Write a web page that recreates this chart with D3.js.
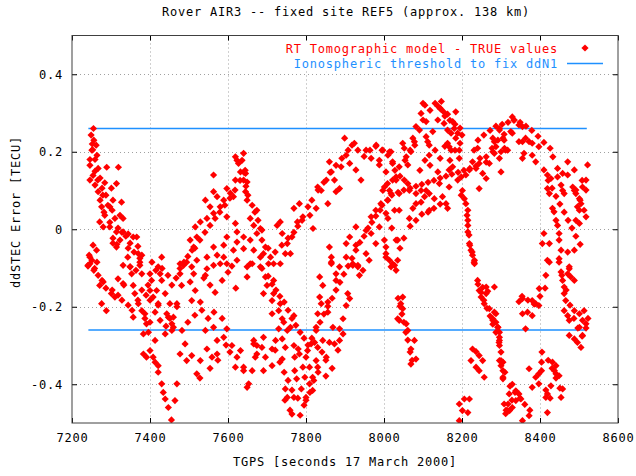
<!DOCTYPE html>
<html>
<head>
<meta charset="utf-8">
<script src="https://cdn.jsdelivr.net/npm/d3@7"></script>
<style>
  body { margin: 0; background: #fff; }
  text { font-family: "DejaVu Sans Mono", monospace; font-size: 12px; letter-spacing: 0.78px; }
</style>
</head>
<body>
<svg id="chart" width="636" height="476"></svg>
<script>
// Axis ticks
const xTicks = [7200, 7400, 7600, 7800, 8000, 8200, 8400, 8600];
const yTicks = [-0.4, -0.2, 0, 0.2, 0.4];

// Ionospheric threshold (+/-) and its time span
const threshold = 0.26;
const thresholdSpan = [7242, 8520];

// ddSTEC error samples [TGPS s, TECU], grouped by 200 s windows
const ddstec7200 = [
  [7255,0.26],[7252,0.22],[7253,0.205],[7246,0.18],[7259,0.18],[7259,0.15],[7289,0.16],[7319,0.16],
  [7246,0.127],[7266,0.127],[7284,0.12],[7267,0.097],[7301,0.106],[7314,0.118],[7279,0.088],[7305,0.075],
  [7327,0.07],[7276,0.058],[7297,0.058],[7284,0.036],[7323,0.036],[7331,0.028],[7271,0.019],[7297,0.006],
  [7280,0.006],[7314,-0.007],[7331,-0.007],[7344,-0.012],[7357,-0.02],[7323,-0.028],[7349,-0.036],[7366,-0.02],
  [7305,-0.036],[7314,-0.046],[7254,-0.041],[7263,-0.054],[7246,-0.072],[7370,-0.063],[7374,-0.075],[7343,-0.072],
  [7349,-0.097],[7331,-0.093],[7241,-0.093],[7246,-0.089],[7258,-0.101],[7271,-0.145],[7280,-0.136],[7301,-0.166],
  [7310,-0.175],[7318,-0.128],[7331,-0.14],[7276,-0.192],[7288,-0.21],[7349,-0.097],[7353,-0.115],[7357,-0.145],
  [7361,-0.166],[7374,-0.093],[7379,-0.115],[7370,-0.192],[7379,-0.21],[7357,-0.227],[7387,-0.218],[7391,-0.244],
  [7396,-0.266],[7383,-0.27],[7383,-0.322],[7391,-0.33],
  [7249,0.243],[7256,0.23],[7262,0.217],[7251,0.204],[7264,0.191],[7246,0.165],[7267,0.157],[7254,0.139],
  [7272,0.132],[7259,0.114],[7277,0.106],[7287,0.088],[7272,0.075],[7292,0.062],[7303,0.049],[7282,0.044],
  [7310,0.028],[7297,0.018],[7318,0.003],[7328,-0.008],[7338,-0.018],[7305,-0.023],[7315,-0.039],[7344,-0.049],
  [7359,-0.059],[7369,-0.044],[7379,-0.067],[7244,-0.067],[7251,-0.08],[7241,-0.095],[7256,-0.106],[7264,-0.085],
  [7267,-0.119],[7277,-0.132],[7287,-0.152],[7303,-0.157],[7318,-0.17],[7328,-0.183],[7344,-0.196],[7354,-0.209],
  [7369,-0.183],[7379,-0.157],[7390,-0.17],[7333,-0.144],[7364,-0.106],[7374,-0.085],[7395,-0.144],[7387,-0.23]
];
const ddstec7400 = [
  [7400,-0.115],[7404,-0.132],[7400,-0.158],[7417,-0.158],[7408,-0.175],[7426,-0.115],[7430,-0.132],[7439,-0.166],
  [7451,-0.192],[7443,-0.218],[7460,-0.227],[7469,-0.192],[7456,-0.244],[7460,-0.253],[7439,-0.27],[7413,-0.287],
  [7400,-0.313],[7408,-0.33],[7413,-0.343],[7421,-0.352],[7421,-0.369],[7430,-0.399],[7434,-0.421],[7439,-0.438],
  [7447,-0.46],[7455,-0.492],[7464,-0.442],[7469,-0.399],[7477,-0.322],[7490,-0.296],[7494,-0.339],[7507,-0.326],
  [7520,-0.373],[7529,-0.339],[7546,-0.309],[7559,-0.33],[7572,-0.322],[7542,-0.261],[7563,-0.253],[7572,-0.287],
  [7589,-0.279],[7597,-0.257],[7421,-0.192],[7469,-0.2],[7447,-0.227],[7477,-0.115],[7486,-0.093],[7512,-0.115],
  [7503,-0.136],[7481,-0.145],[7516,-0.158],[7507,-0.184],[7529,-0.188],[7546,-0.102],[7563,-0.093],[7580,-0.089],
  [7542,-0.119],[7430,-0.072],[7421,-0.097],[7563,0.14],[7563,0.097],[7572,0.084],[7589,0.075],[7542,0.075],
  [7554,0.058],[7580,0.058],[7563,0.041],[7546,0.028],[7529,0.019],[7516,0.006],[7597,0.032],[7597,-0.02],
  [7589,-0.041],[7563,-0.046],[7572,-0.067],[7546,-0.072],[7520,-0.02],[7512,-0.046],[7503,-0.028],[7494,-0.085],
  [7477,-0.089],[7507,-0.097],[7520,-0.08],[7589,-0.072],[7597,-0.089],[7597,0.105],
  [7400,-0.24],[7413,-0.214],[7426,-0.235],[7441,-0.25],[7451,-0.23],[7456,-0.261],[7400,-0.183],[7421,-0.196],
  [7405,-0.085],[7415,-0.106],[7431,-0.101],[7446,-0.119],[7456,-0.144],[7467,-0.126],[7477,-0.101],[7487,-0.085],
  [7497,-0.07],[7508,-0.054],[7515,-0.049],[7528,-0.028],[7541,-0.008],[7554,0.01],[7567,0.028],[7579,0.044],
  [7592,0.062],[7538,-0.126],[7554,-0.144],[7567,-0.163],[7585,-0.132],[7482,-0.261],[7497,-0.24],[7515,-0.222],
  [7533,-0.209],[7549,-0.23],[7564,-0.214],[7585,-0.23],[7595,-0.299],[7574,-0.338],[7554,-0.359],[7528,-0.384]
];
const ddstec7600 = [
  [7619,0.187],[7640,0.196],[7627,0.17],[7632,0.148],[7640,0.127],[7619,0.127],[7649,0.122],[7606,0.093],
  [7614,0.084],[7649,0.075],[7674,0.049],[7657,0.028],[7666,0.01],[7619,0.015],[7623,-0.007],[7640,-0.02],
  [7657,-0.028],[7623,-0.033],[7614,-0.054],[7640,-0.05],[7666,-0.054],[7623,-0.08],[7657,-0.089],[7683,-0.072],
  [7674,-0.011],[7610,-0.3],[7623,-0.33],[7619,-0.356],[7640,-0.356],[7649,-0.408],[7666,-0.296],[7674,-0.322],
  [7662,-0.365],[7649,-0.097],[7649,-0.123],[7662,-0.089],[7645,0.144],[7645,0.097],[7683,0.002],[7696,-0.046],
  [7691,-0.063],[7709,-0.072],[7683,-0.097],[7704,-0.089],[7717,-0.089],[7726,0.01],[7734,0.019],[7739,-0.011],
  [7752,-0.037],[7764,-0.02],[7747,-0.063],[7760,-0.063],[7778,0.019],[7769,0.054],[7783,0.066],[7792,0.032],
  [7696,-0.123],[7700,-0.145],[7717,-0.132],[7691,-0.166],[7717,-0.166],[7713,-0.184],[7734,-0.192],[7730,-0.21],
  [7713,-0.218],[7739,-0.231],[7743,-0.24],[7769,-0.223],[7760,-0.253],[7752,-0.261],[7730,-0.257],[7739,-0.283],
  [7722,-0.287],[7747,-0.305],[7769,-0.3],[7780,-0.309],[7783,-0.322],[7771,-0.33],[7739,-0.335],[7691,-0.279],
  [7687,-0.305],[7713,-0.309],[7666,-0.287],[7674,-0.3],[7670,-0.33],[7696,-0.33],[7691,-0.365],[7713,-0.352],
  [7640,-0.365],[7653,-0.399],[7632,-0.313],[7747,-0.412],[7752,-0.434],[7769,-0.434],[7764,-0.477],[7776,-0.386],
  [7771,-0.365],[7788,-0.412],[7797,-0.382],[7734,-0.089],
  [7605,0.08],[7618,0.101],[7631,0.126],[7644,0.152],[7636,0.178],[7600,-0.111],[7610,-0.095],[7620,-0.152],
  [7605,-0.317],[7623,0.178],[7641,0.147],[7646,0.111],[7651,0.088],[7662,0.062],[7669,0.044],[7677,0.023],
  [7687,-0.002],[7687,-0.028],[7703,-0.049],[7721,-0.059],[7738,-0.041],[7754,-0.023],[7769,-0.008],[7779,0.008],
  [7790,0.023],[7687,-0.101],[7703,-0.121],[7713,-0.142],[7723,-0.157],[7733,-0.173],[7744,-0.188],[7754,-0.209],
  [7764,-0.23],[7774,-0.248],[7785,-0.266],[7795,-0.281],[7721,-0.312],[7733,-0.343],[7744,-0.369],[7754,-0.39],
  [7764,-0.415],[7779,-0.436],[7795,-0.454],[7785,-0.48],[7759,-0.467],[7746,-0.441]
];
const ddstec7800 = [
  [7805,0.058],[7810,0.036],[7818,0.002],[7826,0.054],[7830,0.109],[7839,0.1],[7852,0.127],[7856,0.066],
  [7865,0.148],[7873,0.127],[7877,0.097],[7886,0.105],[7860,0.174],[7890,0.161],[7903,0.191],[7912,0.17],
  [7924,0.222],[7899,0.235],[7928,0.153],[7941,0.127],[7954,0.204],[7967,0.183],[7980,0.217],[7988,0.166],
  [7997,0.204],[7997,0.1],[7992,0.066],[7979,0.049],[7967,0.032],[7954,-0.003],[7967,-0.011],[7988,0.006],
  [7928,0.006],[7912,-0.02],[7903,-0.037],[7928,-0.041],[7860,-0.046],[7865,-0.072],[7865,-0.085],[7903,-0.072],
  [7920,-0.089],[7933,-0.093],[7954,-0.063],[7962,-0.08],[7979,-0.037],[7800,-0.434],[7809,-0.399],[7817,-0.416],
  [7792,-0.356],[7800,-0.33],[7809,-0.356],[7817,-0.382],[7804,-0.313],[7813,-0.296],[7822,-0.292],[7830,-0.305],
  [7826,-0.339],[7830,-0.356],[7843,-0.287],[7852,-0.33],[7860,-0.292],[7873,-0.296],[7886,-0.287],[7865,-0.089],
  [7886,-0.097],[7877,-0.115],[7877,-0.132],[7835,-0.123],[7843,-0.145],[7835,-0.175],[7839,-0.192],[7856,-0.188],
  [7856,-0.214],[7830,-0.218],[7826,-0.253],[7869,-0.253],[7886,-0.257],[7895,-0.27],[7895,-0.231],[7907,-0.166],
  [7912,-0.179],[7903,-0.197],[7920,-0.093],[7933,-0.097],[7937,-0.119],[7946,-0.106],[7988,0.178],
  [7805,-0.299],[7815,-0.281],[7826,-0.261],[7836,-0.24],[7846,-0.219],[7856,-0.199],[7867,-0.178],[7877,-0.157],
  [7887,-0.137],[7897,-0.116],[7908,-0.095],[7918,-0.075],[7928,-0.054],[7938,-0.034],[7949,-0.018],[7959,0.003],
  [7969,0.018],[7979,0.034],[7990,0.049],[7995,0.062],[7841,-0.317],[7851,-0.338],[7831,-0.369],[7820,-0.39],
  [7810,-0.421],[7800,-0.441],[7851,-0.379],[7867,-0.359],[7882,-0.312],[7815,0.075],[7831,0.101],[7846,0.121],
  [7862,0.147],[7877,0.165],[7892,0.183],[7908,0.204],[7918,0.217],[7933,0.204],[7949,0.188],[7964,0.204],
  [7979,0.214],[7995,0.204]
];
const ddstec8000 = [
  [8014,0.2],[8022,0.17],[8005,0.148],[8031,0.127],[8009,0.118],[8018,0.092],[8009,0.075],[8005,0.041],
  [8027,0.049],[8005,-0.046],[8005,-0.072],[8018,-0.097],[8035,-0.08],[8035,-0.028],[8031,-0.106],[8035,-0.231],
  [8147,0.33],[8100,0.325],[8138,0.318],[8146,0.31],[8154,0.302],[8163,0.297],[8184,0.303],[8095,0.299],
  [8100,0.282],[8108,0.278],[8138,0.282],[8154,0.273],[8176,0.278],[8180,0.26],[8082,0.265],[8091,0.256],
  [8125,0.252],[8163,0.256],[8172,0.248],[8189,0.248],[8108,0.239],[8112,0.226],[8184,0.235],[8074,0.235],
  [8078,0.226],[8116,0.217],[8163,0.222],[8167,0.213],[8172,0.204],[8193,0.204],[8048,0.222],[8052,0.209],
  [8018,0.2],[8069,0.2],[8057,0.187],[8116,0.191],[8022,0.174],[8039,0.161],[8061,0.166],[8031,0.135],
  [8022,0.127],[8052,0.127],[8061,0.118],[8001,0.109],[8014,0.1],[8039,0.092],[8065,0.1],[8082,0.092],
  [8095,0.1],[8108,0.1],[8116,0.092],[8129,0.079],[8142,0.118],[8138,0.148],[8150,0.084],[8167,0.153],
  [8176,0.161],[8193,0.183],[8167,0.109],[8189,0.127],[8104,0.084],[8095,0.07],[8082,0.066],[8074,0.054],
  [8116,0.049],[8159,0.066],[8163,0.054],[8039,0.049],[8065,0.028],[8001,-0.028],[8005,-0.063],[8014,-0.08],
  [8027,-0.093],[8022,-0.089],[8048,-0.175],[8043,-0.192],[8048,-0.205],[8039,-0.235],[8057,-0.244],[8061,-0.261],
  [8078,-0.287],[8069,-0.309],[8082,-0.335],[8069,-0.348],[8193,-0.451],[8193,-0.494],
  [8010,0.075],[8010,0.191],[8020,0.088],[8036,0.095],[8051,0.101],[8067,0.106],[8082,0.111],[8097,0.116],
  [8113,0.121],[8128,0.126],[8144,0.132],[8159,0.137],[8174,0.142],[8190,0.147],[8028,0.152],[8041,0.137],
  [8054,0.178],[8067,0.204],[8079,0.217],[8092,0.152],[8105,0.178],[8118,0.165],[8131,0.204],[8144,0.183],
  [8156,0.214],[8169,0.178],[8182,0.204],[8195,0.222],[8105,0.32],[8118,0.307],[8131,0.325],[8144,0.312],
  [8156,0.292],[8169,0.281],[8182,0.271],[8195,0.261],[8010,0.028],[8020,0.003],[8031,-0.028],[8041,-0.049],
  [8051,-0.023],[8067,0.008],[8082,0.023],[8097,0.039],[8113,0.044],[8128,0.054],[8144,0.065],[8036,-0.178],
  [8041,-0.199],[8046,-0.219],[8051,-0.24],[8056,-0.266],[8061,-0.286],[8067,-0.317],[8072,-0.338]
];
const ddstec8200 = [
  [8198,0.135],[8210,0.14],[8219,0.153],[8227,0.174],[8236,0.157],[8244,0.17],[8253,0.144],[8262,0.131],
  [8270,0.17],[8262,0.187],[8240,0.209],[8279,0.2],[8287,0.213],[8296,0.256],[8305,0.235],[8283,0.226],
  [8309,0.209],[8317,0.204],[8244,0.105],[8201,0.1],[8198,0.088],[8206,0.079],[8210,0.066],[8215,0.049],
  [8215,0.023],[8215,-0.007],[8219,-0.037],[8223,-0.054],[8227,-0.067],[8232,-0.08],[8232,-0.089],[8240,-0.132],
  [8244,-0.158],[8253,-0.15],[8249,-0.175],[8262,-0.166],[8262,-0.149],[8266,-0.16],[8257,-0.192],[8270,-0.205],
  [8283,-0.214],[8279,-0.231],[8287,-0.24],[8292,-0.253],[8296,-0.279],[8296,-0.3],[8300,-0.339],[8305,-0.365],
  [8305,-0.386],[8227,-0.309],[8236,-0.316],[8244,-0.326],[8253,-0.339],[8223,-0.339],[8236,-0.356],[8244,-0.365],
  [8257,-0.382],[8206,-0.438],[8219,-0.438],[8201,-0.468],[8215,-0.473],[8318,-0.451],[8322,-0.468],[8329,0.29],
  [8334,0.282],[8346,0.269],[8355,0.265],[8296,0.26],[8325,0.252],[8329,0.248],[8279,0.235],[8308,0.23],
  [8346,0.226],[8355,0.226],[8363,0.235],[8372,0.226],[8380,0.222],[8397,0.213],[8312,0.204],[8300,0.2],
  [8283,0.196],[8296,0.183],[8300,0.148],[8359,0.196],[8355,0.183],[8380,0.191],[8389,0.174],[8355,-0.179],
  [8346,-0.187],[8380,-0.184],[8389,-0.192],[8397,-0.197],[8355,-0.218],[8368,-0.214],[8380,-0.223],[8363,-0.257],
  [8283,-0.149],[8287,-0.218],[8279,-0.235],[8292,-0.253],[8296,-0.266],[8296,-0.287],[8296,-0.339],[8300,-0.352],
  [8305,-0.382],[8372,-0.36],[8397,-0.373],[8389,-0.382],[8397,-0.399],[8380,-0.408],[8329,-0.4],[8338,-0.417],
  [8346,-0.425],[8351,-0.438],[8321,-0.425],[8308,-0.451],[8317,-0.468],[8329,-0.46],[8338,-0.442],[8312,-0.476],
  [8372,-0.481],[8355,-0.494],
  [8205,0.152],[8220,0.157],[8236,0.163],[8200,0.243],[8241,0.23],[8256,0.243],[8272,0.255],[8287,0.266],
  [8303,0.271],[8318,0.276],[8333,0.281],[8349,0.276],[8364,0.266],[8379,0.255],[8395,0.24],[8231,0.204],
  [8246,0.183],[8262,0.173],[8277,0.209],[8292,0.23],[8308,0.245],[8213,0.036],[8215,0.01],[8218,-0.015],
  [8220,-0.041],[8226,-0.059],[8231,-0.085],[8241,-0.142],[8249,-0.163],[8256,-0.183],[8264,-0.204],[8272,-0.224],
  [8279,-0.245],[8287,-0.266],[8295,-0.292],[8300,-0.317],[8305,-0.343],[8310,-0.369],[8323,-0.405],[8336,-0.421],
  [8349,-0.436],[8361,-0.452],[8374,-0.467],[8328,-0.441],[8313,-0.467],[8354,-0.173],[8369,-0.183],[8385,-0.193]
];
const ddstec8400 = [
  [8433,0.187],[8471,0.174],[8410,0.153],[8419,0.14],[8445,0.157],[8458,0.144],[8471,0.14],[8488,0.153],
  [8522,0.166],[8428,0.131],[8445,0.135],[8518,0.127],[8509,0.109],[8484,0.109],[8488,0.1],[8454,0.114],
  [8458,0.1],[8419,0.105],[8424,0.092],[8462,0.092],[8492,0.092],[8501,0.079],[8505,0.066],[8496,0.058],
  [8501,0.049],[8518,0.032],[8492,0.023],[8501,0.015],[8432,0.054],[8436,0.045],[8441,0.023],[8445,0.01],
  [8410,-0.011],[8406,-0.037],[8424,-0.037],[8419,-0.08],[8449,-0.011],[8449,-0.028],[8454,-0.054],[8471,-0.059],
  [8488,-0.054],[8475,-0.102],[8449,-0.076],[8424,-0.085],[8449,-0.085],[8475,-0.097],[8471,-0.115],[8479,-0.123],
  [8488,-0.132],[8454,-0.11],[8458,-0.132],[8462,-0.149],[8462,-0.166],[8466,-0.184],[8462,-0.21],[8471,-0.223],
  [8475,-0.235],[8488,-0.21],[8501,-0.218],[8509,-0.235],[8513,-0.21],[8518,-0.244],[8475,-0.274],[8488,-0.283],
  [8496,-0.292],[8505,-0.305],[8509,-0.274],[8501,-0.253],[8415,-0.119],[8398,-0.153],[8404,-0.343],[8432,-0.343],
  [8441,-0.352],[8441,-0.373],[8449,-0.378],[8437,-0.365],[8404,-0.365],[8428,-0.404],[8458,-0.412],[8454,-0.434],
  [8419,-0.425],[8415,-0.434],[8419,-0.473],
  [8410,0.224],[8426,0.209],[8400,-0.173],[8413,-0.152],[8421,0.126],[8431,0.106],[8441,0.085],[8451,0.065],
  [8462,0.044],[8472,0.023],[8482,0.003],[8492,-0.018],[8503,-0.039],[8513,0.049],[8503,0.075],[8492,0.101],
  [8518,0.101],[8508,0.126],[8456,-0.119],[8467,-0.157],[8477,-0.196],[8487,-0.23],[8497,-0.255],[8508,-0.276],
  [8518,-0.255],[8523,-0.23],[8405,-0.317],[8421,-0.338],[8431,-0.359],[8441,-0.384],[8451,-0.41],[8415,-0.415],
  [8426,-0.436]
];

const samples = [].concat(ddstec7200, ddstec7400, ddstec7600, ddstec7800, ddstec8000, ddstec8200, ddstec8400);

const svg = d3.select("#chart");
const plotL = 72, plotR = 618, plotT = 35.5, plotB = 423;
const x = d3.scaleLinear().domain([7200, 8600]).range([plotL, plotR]);
const y = d3.scaleLinear().domain([-0.5, 0.5]).range([plotB, plotT]);

const red = "#ff0000", blue = "#1e90ff", gridGrey = "#a0a0a0", frameGrey = "#404040";

// Title
svg.append("text").attr("x", 346).attr("y", 16).attr("text-anchor", "middle")
  .attr("fill", "#000").text("Rover AIR3 -- fixed site REF5 (approx. 138 km)");

// Dotted grid
const grid = svg.append("g").attr("stroke", gridGrey).attr("stroke-dasharray", "1,3").attr("stroke-width", 1);
grid.selectAll(".gx").data(xTicks.slice(1, -1)).join("line")
  .attr("x1", d => Math.round(x(d)) + 0.5).attr("x2", d => Math.round(x(d)) + 0.5)
  .attr("y1", plotT).attr("y2", plotB);
grid.selectAll(".gy").data(yTicks).join("line")
  .attr("y1", d => Math.round(y(d)) + 0.5).attr("y2", d => Math.round(y(d)) + 0.5)
  .attr("x1", plotL).attr("x2", plotR);

// Legend area is kept clear of grid lines
svg.append("rect").attr("x", 280).attr("y", 37).attr("width", 336).attr("height", 34).attr("fill", "#fff");

// Threshold lines
svg.append("g").selectAll("line").data([threshold, -threshold]).join("line")
  .attr("x1", x(thresholdSpan[0])).attr("x2", x(thresholdSpan[1]))
  .attr("y1", d => y(d)).attr("y2", d => y(d))
  .attr("stroke", blue).attr("stroke-width", 1.3);

// Diamond markers
const diamond = "M0,-3.6L3.6,0L0,3.6L-3.6,0Z";
svg.append("defs").append("clipPath").attr("id", "plotClip")
  .append("rect").attr("x", plotL).attr("y", plotT).attr("width", plotR - plotL).attr("height", plotB - plotT);
svg.append("g").attr("clip-path", "url(#plotClip)")
  .selectAll("path").data(samples).join("path")
  .attr("d", diamond)
  .attr("transform", d => `translate(${x(d[0])},${y(d[1])})`)
  .attr("fill", red);

// Axes with inward ticks on all four sides
const fmtY = d => (d === 0 ? "0" : String(d));
const axB = svg.append("g").attr("transform", `translate(0,${plotB})`)
  .call(d3.axisBottom(x).tickValues(xTicks).tickSizeInner(-5).tickSizeOuter(0).tickPadding(10).tickFormat(d3.format("d")));
const axL = svg.append("g").attr("transform", `translate(${plotL},0)`)
  .call(d3.axisLeft(y).tickValues(yTicks).tickSizeInner(-5).tickSizeOuter(0).tickPadding(9).tickFormat(fmtY));
const axT = svg.append("g").attr("transform", `translate(0,${plotT})`)
  .call(d3.axisTop(x).tickValues(xTicks).tickSizeInner(-5).tickSizeOuter(0).tickFormat(""));
const axR = svg.append("g").attr("transform", `translate(${plotR},0)`)
  .call(d3.axisRight(y).tickValues(yTicks).tickSizeInner(-5).tickSizeOuter(0).tickFormat(""));
[axB, axL, axT, axR].forEach(g => {
  g.select(".domain").remove();
  g.selectAll(".tick line").attr("stroke", "#000");
  g.selectAll("text").attr("font-family", null).attr("font-size", null).attr("fill", "#000");
});

// Frame
svg.append("rect").attr("x", plotL).attr("y", plotT).attr("width", plotR - plotL).attr("height", plotB - plotT)
  .attr("fill", "none").attr("stroke", frameGrey).attr("stroke-width", 1);

// Axis titles
svg.append("text").attr("x", 345).attr("y", 466).attr("text-anchor", "middle").attr("fill", "#000")
  .text("TGPS [seconds 17 March 2000]");
svg.append("text").attr("transform", "translate(20,212) rotate(-90)").attr("text-anchor", "middle").attr("fill", "#000")
  .text("ddSTEC Error [TECU]");

// Legend
const legend = svg.append("g");
legend.append("text").attr("x", 558).attr("y", 52.5).attr("text-anchor", "end").attr("fill", red)
  .text("RT Tomographic model - TRUE values");
legend.append("path").attr("d", diamond).attr("transform", "translate(585,48)").attr("fill", red);
legend.append("text").attr("x", 558).attr("y", 67.5).attr("text-anchor", "end").attr("fill", blue)
  .text("Ionospheric threshold to fix ddN1");
legend.append("line").attr("x1", 567).attr("x2", 603).attr("y1", 63.5).attr("y2", 63.5)
  .attr("stroke", blue).attr("stroke-width", 1.3);
</script>
</body>
</html>
